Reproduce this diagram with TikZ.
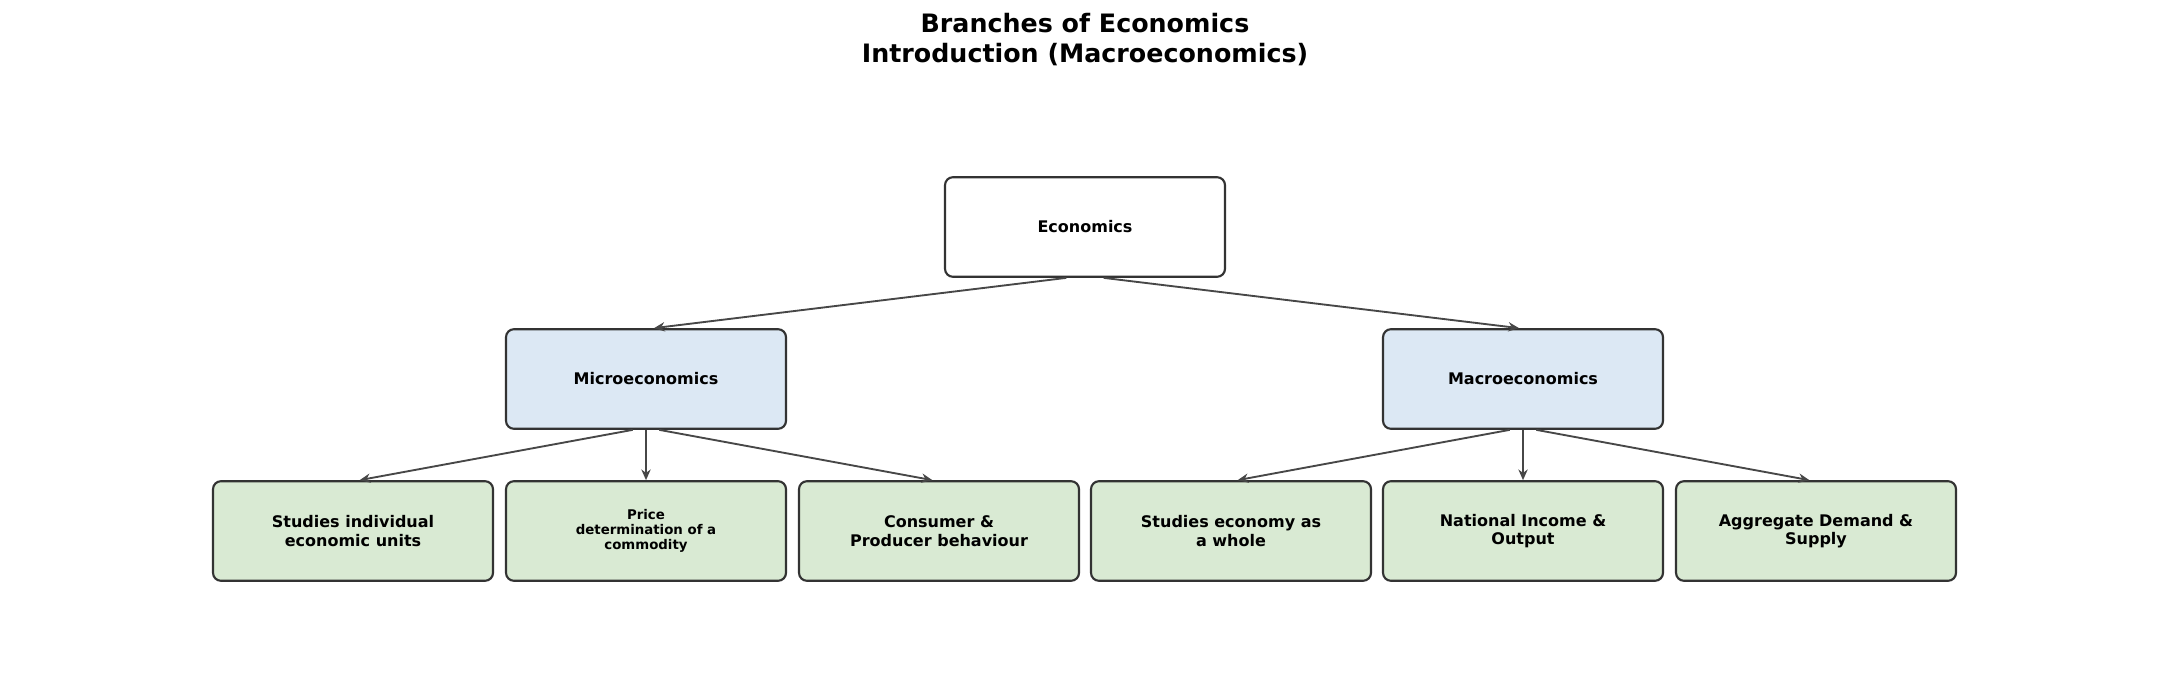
\documentclass[tikz,border=0pt]{standalone}
\usepackage{fontspec}
\setmainfont{DejaVu Sans}
\usetikzlibrary{arrows.meta}
\definecolor{micro}{HTML}{DCE8F4}
\definecolor{leaf}{HTML}{D9EAD3}
\definecolor{edge}{HTML}{333333}
\begin{document}
\begin{tikzpicture}[x=0.75pt,y=-0.75pt,
  box/.style={draw=edge,line width=1.6pt,rounded corners=6pt,minimum width=210pt,minimum height=74.7pt,align=center,font=\bfseries\fontsize{12}{14}\selectfont,inner sep=2pt},
  conn/.style={draw=edge!90,line width=1.4pt,-{Stealth[length=8pt,width=7pt]}}]
\useasboundingbox (0,0) rectangle (2169,699);
\node (t) at (1085,40) [align=center,font=\bfseries\fontsize{19}{22.5}\selectfont] {Branches of Economics\\Introduction (Macroeconomics)};
\node[box,fill=white] (e) at (1085,227) {Economics};
\node[box,fill=micro] (mi) at (646,379) {Microeconomics};
\node[box,fill=micro] (ma) at (1523,379) {Macroeconomics};
\node[box,fill=leaf] (l1) at (353,531) {Studies individual\\economic units};
\node[box,fill=leaf,font=\bfseries\fontsize{10}{11.5}\selectfont] (l2) at (646,531) {Price\\determination of a\\commodity};
\node[box,fill=leaf] (l3) at (939,531) {Consumer \&\\Producer behaviour};
\node[box,fill=leaf] (l4) at (1231,531) {Studies economy as\\a whole};
\node[box,fill=leaf] (l5) at (1523,531) {National Income \&\\Output};
\node[box,fill=leaf] (l6) at (1816,531) {Aggregate Demand \&\\Supply};
\draw[conn] ([xshift=-14pt]e.south) -- ([xshift=6pt]mi.north);
\draw[conn] ([xshift=14pt]e.south) -- ([xshift=-3pt]ma.north);
\draw[conn] ([xshift=-10pt]mi.south) -- ([xshift=5pt]l1.north);
\draw[conn] (mi.south) -- (l2.north);
\draw[conn] ([xshift=10pt]mi.south) -- ([xshift=-5pt]l3.north);
\draw[conn] ([xshift=-10pt]ma.south) -- ([xshift=5pt]l4.north);
\draw[conn] (ma.south) -- (l5.north);
\draw[conn] ([xshift=10pt]ma.south) -- ([xshift=-5pt]l6.north);
\end{tikzpicture}
\end{document}
